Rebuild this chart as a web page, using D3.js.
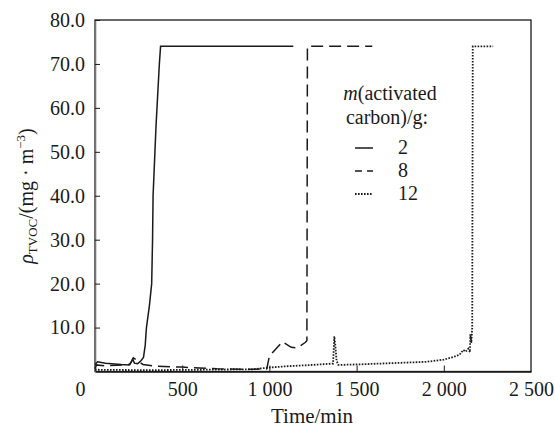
<!DOCTYPE html>
<html><head><meta charset="utf-8">
<script src="https://cdn.jsdelivr.net/npm/d3@7"></script>
<style>
body{margin:0;background:#fff;}
svg, svg text{font-family:"Liberation Serif","Times New Roman",serif !important;}
</style></head>
<body><svg id="c" width="555" height="427"></svg>
<script>
// ---- data (time in min, concentration in mg/m3) ----
const series2 = [[0,1.6],[15,2.2],[60,1.9],[150,1.6],[195,1.5],[208,2.2],[216,2.8],[226,1.9],[245,1.8],[262,2.4],[278,3.2],[288,6],[295,10],[312,15],[325,20],[330,30],[333,40],[350,56],[369,70],[376,74],[1137,74]];
const series8 = [[0,0.6],[8,1.5],[60,1.3],[200,1.6],[220,3.1],[275,1.6],[345,1.2],[500,1.0],[700,0.6],[900,0.5],[985,0.6],[1000,3.5],[1075,6.8],[1125,5.5],[1160,5.4],[1205,6.6],[1215,7],[1218,74],[1590,74]];
const series12 = [[0,0.4],[300,0.3],[600,0.4],[900,0.5],[1000,0.9],[1100,1.2],[1250,1.5],[1365,1.8],[1372,8.0],[1378,6],[1385,2.5],[1395,1.5],[1500,1.6],[1700,1.9],[1900,2.2],[2000,2.7],[2055,3.3],[2090,3.8],[2112,4.9],[2125,4.5],[2140,5.2],[2150,4.4],[2152,8.5],[2158,6.5],[2163,10],[2166,74],[2283,74]];
const seriesNames = ["2","8","12"];
const xTicks = [0,500,1000,1500,2000,2500];
const xTickLabels = ["0","500","1 000","1 500","2 000","2 500"];
const yTicks = [10,20,30,40,50,60,70,80];
const yTickLabels = ["10.0","20.0","30.0","40.0","50.0","60.0","70.0","80.0"];

const svg = d3.select("#c");
const L=95, R=531, T=20, B=371.5;
const x = d3.scaleLinear().domain([0,2500]).range([L,R]);
const y = d3.scaleLinear().domain([0,80]).range([B,T]);
const ink = "#1a1a1a";
const FF = "Liberation Serif, Times New Roman, serif";

// frame
svg.append("rect").attr("x",L).attr("y",T).attr("width",R-L).attr("height",B-T)
  .attr("fill","none").attr("stroke",ink).attr("stroke-width",1.3);

// axes
const yAx = svg.append("g").attr("transform",`translate(${L},0)`)
  .call(d3.axisLeft(y).tickValues(yTicks).tickFormat((d,i)=>yTickLabels[i]).tickSizeInner(-5).tickSizeOuter(0).tickPadding(10));
yAx.attr("font-family",FF);
yAx.select(".domain").attr("stroke","#777").attr("stroke-width",1.6);
yAx.selectAll("line").attr("stroke",ink);
yAx.selectAll("text").attr("font-size",20).attr("fill",ink);

const xAx = svg.append("g").attr("transform",`translate(0,${B})`)
  .call(d3.axisBottom(x).tickValues(xTicks).tickFormat((d,i)=>xTickLabels[i]).tickSizeInner(-6).tickSizeOuter(0).tickPadding(10));
xAx.attr("font-family",FF);
xAx.select(".domain").attr("stroke",ink).attr("stroke-width",1.3);
xAx.selectAll("line").attr("stroke",ink);
xAx.selectAll("text").attr("font-size",20).attr("fill",ink);
xAx.selectAll(".tick").filter(d=>d===0).select("text").attr("x",-15);
xAx.selectAll(".tick").filter(d=>d===0||d===2500).select("line").remove();

// lines
const line = d3.line().x(d=>x(d[0])).y(d=>y(d[1]));
const styles = [
  {data:series2, dash:null, w:1.5},
  {data:series8, dash:"12,6", w:1.5},
  {data:series12, dash:"1.6,1.4", w:1.8}
];
styles.forEach(s=>{
  svg.append("path").attr("d",line(s.data)).attr("fill","none").attr("stroke",ink)
    .attr("stroke-width",s.w).attr("stroke-dasharray",s.dash);
});

// axis titles
svg.append("text").attr("x",312).attr("y",423).attr("text-anchor","middle")
  .attr("font-family",FF).attr("font-size",21).attr("fill",ink).text("Time/min");

const yt = svg.append("text").attr("transform","translate(33,196) rotate(-90)")
  .attr("text-anchor","middle").attr("font-family",FF).attr("font-size",20).attr("fill",ink);
yt.append("tspan").attr("font-style","italic").text("ρ");
yt.append("tspan").attr("font-size",13).attr("dy",4).text("TVOC");
yt.append("tspan").attr("dy",-4).text("/(mg · m");
yt.append("tspan").attr("font-size",13).attr("dy",-8).text("−3");
yt.append("tspan").attr("dy",8).text(")");

// legend
const lg = svg.append("g").attr("fill",ink).attr("font-size",20).attr("font-family",FF);
const t1 = lg.append("text").attr("x",390).attr("y",100).attr("text-anchor","middle");
t1.append("tspan").attr("font-style","italic").text("m");
t1.append("tspan").text("(activated");
lg.append("text").attr("x",387).attr("y",124).attr("text-anchor","middle").text("carbon)/g:");
const legRows = [{y:148,dash:null,w:1.5},{y:171,dash:"7,5",w:1.5},{y:194,dash:"1.6,1.4",w:1.8}];
legRows.forEach((r,i)=>{
  lg.append("line").attr("x1",355).attr("x2",373).attr("y1",r.y).attr("y2",r.y)
    .attr("stroke",ink).attr("stroke-width",r.w).attr("stroke-dasharray",r.dash);
  lg.append("text").attr("x",398).attr("y",r.y+6).text(seriesNames[i]);
});
</script></body></html>
